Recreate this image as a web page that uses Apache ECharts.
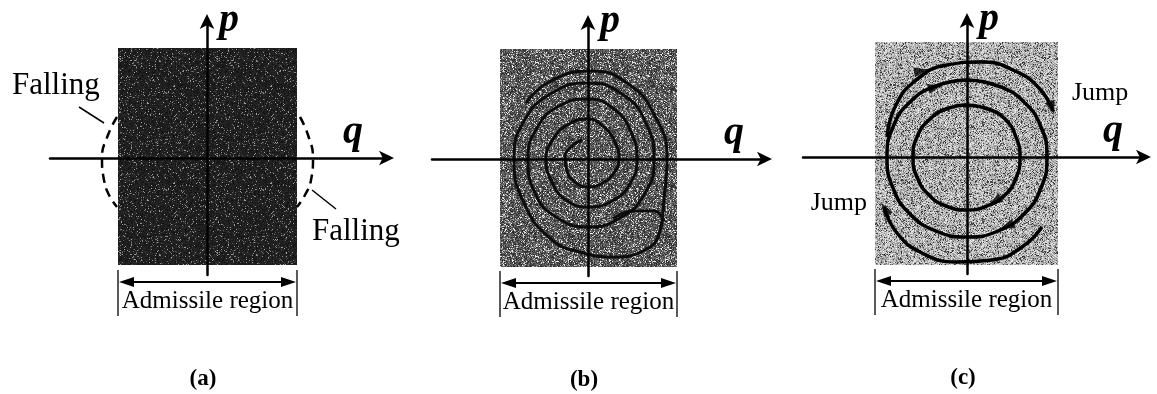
<!DOCTYPE html>
<html>
<head>
<meta charset="utf-8">
<script src="https://cdn.jsdelivr.net/npm/echarts@6/dist/echarts.min.js"></script>
<style>
  html, body { margin: 0; padding: 0; background: #fff; }
  #chart { width: 1157px; height: 394px; }
</style>
</head>
<body>
<div id="chart"></div>
<script>
// three phase-plane panels (q horizontal, p vertical), units ~ 10 px
const panelNames = ["(a)", "(b)", "(c)"];
const qRange = [[-15.7, 18.1], [-15.6, 17.8], [-16.4, 17.8]];
const pRange = [-11.7, 13.8];

// admissible rectangle per panel: [qMin, pMin, qMax, pMax]
const regionA = [-8.9, -10.7, 9.0, 11.0];
const regionB = [-8.8, -10.8, 8.9, 11.0];
const regionC = [-9.2, -10.8, 9.1, 11.5];

// (a) dashed "falling" arcs on both edges
const fallLeft = [[-9.0, 4.1], [-9.9, 2.3], [-10.5, 0], [-10.3, -2.2], [-9.8, -3.7], [-9.0, -4.9]];
const fallRight = [[9.3, 4.1], [10.1, 2.3], [10.6, 0], [10.4, -2.2], [9.8, -3.7], [9.0, -4.9]];
const leaderLeft = [[-12.8, 5.1], [-10.3, 3.5]];
const leaderRight = [[10.5, -3.2], [12.9, -5.1]];

// (b) spiral trajectory
const spiralB = [
  [-6.2, 5.6], [-3.9, 7.7], [0.2, 8.8], [3.9, 7.6], [6.7, 4.3], [7.9, 0], [7.6, -4.0],
  [7.2, -7.2], [5.5, -9.2], [2.5, -9.8], [-0.8, -9.3], [-3.7, -8.0], [-6.4, -4.4], [-7.4, 0],
  [-6.4, 3.8], [-3.6, 6.6], [0, 7.6], [3.4, 6.5], [5.8, 3.6], [6.6, -0.2], [5.6, -3.6],
  [3.2, -5.9], [0, -6.8], [-3.2, -5.8], [-5.3, -3.4], [-6.0, 0], [-5.1, 3.1], [-2.9, 5.3],
  [0, 6.0], [2.6, 5.0], [4.3, 2.7], [4.9, 0], [4.2, -2.5], [2.4, -4.2], [0, -4.8],
  [-2.2, -4.1], [-3.6, -2.3], [-4.2, 0], [-3.4, 2.1], [-1.9, 3.5], [0, 4.0], [1.6, 3.2],
  [2.7, 1.7], [3.1, 0], [2.5, -1.5], [1.3, -2.5], [0, -2.8], [-1.3, -2.3], [-2.1, -1.2],
  [-2.3, 0.2], [-1.6, 1.3], [-0.6, 1.9]
];
const lobeB = [[2.5, -6.0], [4.5, -5.2], [6.6, -5.2], [7.6, -6.2]];

// (c) rings and jumps
const innerC = [
  [0, 5.2], [2.1, 4.8], [3.8, 3.8], [4.9, 2.0], [5.3, 0], [4.9, -2.1], [3.8, -3.8], [2.0, -4.9],
  [0, -5.3], [-2.1, -4.9], [-3.8, -3.8], [-5.0, -2.0], [-5.4, 0], [-5.0, 2.0], [-3.8, 3.7], [-2.1, 4.8], [0, 5.2]
];
const middleC = [
  [0, 7.7], [3.1, 7.1], [5.7, 5.5], [7.4, 3.0], [8.0, 0], [7.4, -3.1], [5.7, -5.7], [3.1, -7.4],
  [0, -8.0], [-3.1, -7.4], [-5.7, -5.7], [-7.4, -3.1], [-8.0, 0], [-7.4, 3.0], [-5.7, 5.5], [-3.1, 7.1], [0, 7.7]
];
const outerTopC = [[-8.0, 2.0], [-7.2, 5.0], [-5.2, 7.6], [-2.0, 9.2], [1.5, 9.5], [4.8, 8.6], [7.2, 6.9], [8.6, 4.6]];
const outerBottomC = [[-8.3, -5.0], [-7.0, -7.6], [-4.5, -9.6], [-1.0, -10.5], [2.5, -10.3], [5.5, -9.0], [7.5, -7.0]];
// arrowheads: [q, p, direction in degrees]
const arrowsC = [[-4.6, 8.6, 10], [-3.2, 7.0, 15], [8.5, 4.9, -70], [-8.2, -5.2, 120], [4.0, -6.9, 200], [2.8, -4.4, 210]];

// text labels
const admText = "Admissile region";
const fallText = "Falling";
const jumpText = "Jump";

const serif = '"Liberation Serif", "Times New Roman", serif';

function texture(kind) {
  const n = 97;
  const c = document.createElement("canvas");
  c.width = n; c.height = n;
  const ctx = c.getContext("2d");
  const img = ctx.createImageData(n, n);
  for (let i = 0; i < n * n; i++) {
    const s = Math.sin(i * 12.9898 + kind * 78.233) * 43758.5453;
    const h = s - Math.floor(s);
    let v;
    if (kind === 0) v = h > 0.9 ? 60 + (h - 0.9) * 1100 : 18 + h * 28;
    else if (kind === 1) v = h > 0.8 ? 140 + (h - 0.8) * 550 : 35 + h * 110;
    else v = h < 0.18 ? 40 + h * 400 : 115 + h * 120;
    v = Math.max(0, Math.min(255, v));
    img.data[i * 4] = v; img.data[i * 4 + 1] = v; img.data[i * 4 + 2] = v; img.data[i * 4 + 3] = 255;
  }
  ctx.putImageData(img, 0, 0);
  return c;
}

const regions = [regionA, regionB, regionC];
const textures = [texture(0), texture(1), texture(2)];

const gridPos = [
  { left: 50, top: 20, width: 338, height: 255 },
  { left: 432, top: 21, width: 334, height: 255 },
  { left: 803, top: 19, width: 342, height: 255 },
];

const axisLineStyle = {
  show: true,
  onZero: true,
  symbol: ["none", "arrow"],
  symbolSize: [11, 15],
  symbolOffset: [0, 6],
  lineStyle: { color: "#000", width: 2.5 },
};

const series = [];
const curve = (k, data, extra) =>
  series.push(Object.assign({
    type: "line", xAxisIndex: k, yAxisIndex: k, data, smooth: true, showSymbol: false,
    silent: true, z: 4, lineStyle: { color: "#000", width: 3 },
  }, extra || {}));

regions.forEach((r, k) => {
  // shaded admissible region
  series.push({
    type: "custom", xAxisIndex: k, yAxisIndex: k, silent: true, z: 1,
    data: [r],
    renderItem: (params, api) => {
      const a = api.coord([api.value(0), api.value(3)]);
      const b = api.coord([api.value(2), api.value(1)]);
      return {
        type: "rect",
        shape: { x: a[0], y: a[1], width: b[0] - a[0], height: b[1] - a[1] },
        style: { fill: { image: textures[k], repeat: "repeat" } },
      };
    },
  });
  // bracket and texts below
  series.push({
    type: "custom", xAxisIndex: k, yAxisIndex: k, silent: true, z: 6,
    data: [[r[0], r[2]]],
    renderItem: (params, api) => {
      const q0 = api.value(0), q1 = api.value(1);
      const L = api.coord([q0, -12.4]), R = api.coord([q1, -12.4]);
      const lt = api.coord([q0, -11.2]), lb = api.coord([q0, -15.8]);
      const rt = api.coord([q1, -11.2]), rb = api.coord([q1, -15.8]);
      const mid = api.coord([(q0 + q1) / 2, -14.3]);
      const lab = api.coord([-0.4, -22.1]);
      const ln = { stroke: "#000", lineWidth: 2 };
      return {
        type: "group",
        children: [
          { type: "line", shape: { x1: L[0] + 8, y1: L[1], x2: R[0] - 8, y2: R[1] }, style: ln },
          { type: "line", shape: { x1: lt[0], y1: lt[1], x2: lb[0], y2: lb[1] }, style: { stroke: "#000", lineWidth: 1.3 } },
          { type: "line", shape: { x1: rt[0], y1: rt[1], x2: rb[0], y2: rb[1] }, style: { stroke: "#000", lineWidth: 1.3 } },
          { type: "polygon", shape: { points: [[L[0] + 1, L[1]], [L[0] + 16, L[1] - 5], [L[0] + 16, L[1] + 5]] }, style: { fill: "#000" } },
          { type: "polygon", shape: { points: [[R[0] - 1, R[1]], [R[0] - 16, R[1] - 5], [R[0] - 16, R[1] + 5]] }, style: { fill: "#000" } },
          { type: "text", x: mid[0], y: mid[1], style: { text: admText, font: "25px " + serif, fill: "#000", align: "center", verticalAlign: "middle" } },
          { type: "text", x: lab[0], y: lab[1], style: { text: panelNames[k], font: "bold 23px " + serif, fill: "#000", align: "center", verticalAlign: "middle" } },
        ],
      };
    },
  });
  // axis letters
  series.push({
    type: "custom", xAxisIndex: k, yAxisIndex: k, silent: true, z: 6,
    data: [[1.2, 13.7, 13.6, 2.5]],
    renderItem: (params, api) => {
      const pp = api.coord([api.value(0), api.value(1)]);
      const qq = api.coord([api.value(2), api.value(3)]);
      const f = "italic bold 40px " + serif;
      return {
        type: "group",
        children: [
          { type: "text", x: pp[0], y: pp[1], style: { text: "p", font: f, fill: "#000", align: "left", verticalAlign: "middle" } },
          { type: "text", x: qq[0], y: qq[1], style: { text: "q", font: f, fill: "#000", align: "left", verticalAlign: "middle" } },
        ],
      };
    },
  });
});

// (a) falling arcs and labels
const dashed = { lineStyle: { color: "#000", width: 2.5, type: [9, 6] }, z: 5 };
curve(0, fallLeft, dashed);
curve(0, fallRight, dashed);
curve(0, leaderLeft, { smooth: false, lineStyle: { color: "#000", width: 1.5 } });
curve(0, leaderRight, { smooth: false, lineStyle: { color: "#000", width: 1.5 } });
series.push({
  type: "custom", xAxisIndex: 0, yAxisIndex: 0, silent: true, z: 6,
  data: [[-19.5, 7.2], [10.5, -7.4]],
  renderItem: (params, api) => {
    const c = api.coord([api.value(0), api.value(1)]);
    return { type: "text", x: c[0], y: c[1], style: { text: fallText, font: "31px " + serif, fill: "#000", align: "left", verticalAlign: "middle" } };
  },
});

// (b) trajectory
curve(1, spiralB, { lineStyle: { color: "#0d0d0d", width: 3 } });
curve(1, lobeB, { lineStyle: { color: "#0d0d0d", width: 3 } });

// (c) rings, jumps, arrows
curve(2, innerC, { lineStyle: { color: "#000", width: 3.5 } });
curve(2, middleC, { lineStyle: { color: "#000", width: 3.5 } });
curve(2, outerTopC, { lineStyle: { color: "#000", width: 3.5 } });
curve(2, outerBottomC, { lineStyle: { color: "#000", width: 3.5 } });
series.push({
  type: "scatter", xAxisIndex: 2, yAxisIndex: 2, silent: true, z: 5,
  symbol: "triangle", symbolSize: [10, 14],
  symbolRotate: (v) => v[2] - 90,
  itemStyle: { color: "#000" },
  data: arrowsC,
});
series.push({
  type: "custom", xAxisIndex: 2, yAxisIndex: 2, silent: true, z: 6,
  data: [[10.5, 6.4, 0], [-10.0, -4.6, 1]],
  renderItem: (params, api) => {
    const c = api.coord([api.value(0), api.value(1)]);
    return { type: "text", x: c[0], y: c[1], style: { text: jumpText, font: "26px " + serif, fill: "#000", align: api.value(2) ? "right" : "left", verticalAlign: "middle" } };
  },
});

const hidden = { axisTick: { show: false }, axisLabel: { show: false }, splitLine: { show: false } };

const option = {
  animation: false,
  backgroundColor: "#fff",
  grid: gridPos,
  xAxis: [0, 1, 2].map((k) => Object.assign({
    type: "value", gridIndex: k, min: qRange[k][0], max: qRange[k][1], z: 10, axisLine: axisLineStyle,
  }, hidden)),
  yAxis: [0, 1, 2].map((k) => Object.assign({
    type: "value", gridIndex: k, min: pRange[0], max: pRange[1], z: 10, axisLine: axisLineStyle,
  }, hidden)),
  series,
};

const chart = echarts.init(document.getElementById("chart"));
chart.setOption(option);
</script>
</body>
</html>
